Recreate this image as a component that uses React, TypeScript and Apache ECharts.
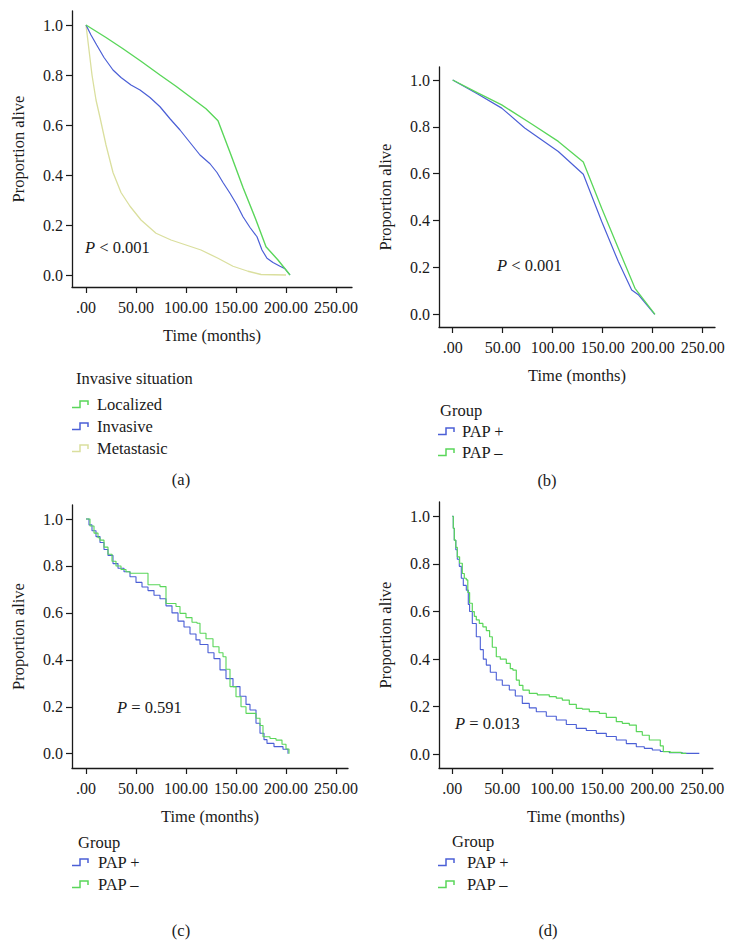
import React, { useEffect, useRef } from 'react';
import * as echarts from 'echarts';

const GREEN = '#5ad65a';
const BLUE = '#4b5fd6';
const YELLOW = '#dadf9e';
const INK = '#1a1a1a';
const FONT = "'Liberation Serif', 'Times New Roman', serif";

const xTicks = [0, 50, 100, 150, 200, 250];
const yTicks = [0, 0.2, 0.4, 0.6, 0.8, 1.0];

// Panel (a): Invasive situation
const aLocalized = [[0, 1], [20, 0.95], [37, 0.905], [55, 0.855], [74, 0.8], [90, 0.755], [105, 0.71], [120, 0.665], [132, 0.617], [145, 0.48], [157, 0.35], [170, 0.22], [180, 0.113], [192, 0.06], [204, 0]];
const aInvasive = [[0, 1], [5, 0.96], [10.7, 0.92], [18, 0.87], [27, 0.82], [35, 0.79], [45, 0.76], [54, 0.74], [64, 0.71], [74, 0.673], [84, 0.625], [94, 0.58], [104, 0.53], [114, 0.48], [124, 0.445], [131, 0.41], [137, 0.37], [144, 0.327], [151, 0.28], [157, 0.233], [164, 0.19], [171, 0.153], [176, 0.1], [181, 0.067], [187, 0.05], [194, 0.035], [199, 0.025], [204, 0]];
const aMetastasic = [[0, 1], [3, 0.9], [6, 0.8], [10, 0.7], [14, 0.63], [20, 0.52], [27, 0.41], [35, 0.33], [44, 0.275], [55, 0.22], [70, 0.167], [85, 0.14], [100, 0.12], [115, 0.1], [132, 0.067], [147, 0.035], [162, 0.015], [175, 0.002], [200, 0]];

// Panel (b)
const bPapPlus = [[0, 1], [25, 0.94], [49, 0.88], [72, 0.795], [105.6, 0.695], [130.6, 0.598], [149, 0.396], [165.6, 0.225], [179, 0.104], [186, 0.082], [202, 0]];
const bPapMinus = [[0, 1], [25, 0.945], [49, 0.894], [79, 0.812], [105.6, 0.738], [130.6, 0.65], [149, 0.453], [165.6, 0.282], [182.3, 0.111], [202.3, 0]];

// Panel (c)
const cPapPlus = [[0, 1], [3, 0.975], [6, 0.95], [10, 0.925], [14, 0.9], [18, 0.87], [22, 0.845], [27, 0.81], [32, 0.79], [38, 0.775], [44, 0.754], [50, 0.73], [56, 0.71], [62, 0.695], [68, 0.675], [74, 0.66], [80, 0.63], [86, 0.6], [92, 0.565], [98, 0.54], [104, 0.51], [110, 0.485], [114, 0.465], [122, 0.43], [128, 0.405], [134, 0.357], [140, 0.32], [147, 0.286], [154, 0.245], [160, 0.21], [164, 0.186], [170, 0.13], [174, 0.087], [178, 0.06], [181, 0.044], [188, 0.03], [197, 0.019], [202, 0]];
const cPapMinus = [[0, 1], [4, 0.97], [8, 0.94], [12, 0.92], [14, 0.91], [18, 0.88], [22, 0.85], [26, 0.82], [30, 0.8], [35, 0.785], [40, 0.775], [44, 0.769], [62, 0.72], [74, 0.712], [80, 0.64], [90, 0.627], [94, 0.598], [100, 0.58], [106, 0.56], [111, 0.556], [114, 0.513], [120, 0.49], [127, 0.456], [133, 0.43], [137, 0.413], [140, 0.36], [144, 0.286], [150, 0.243], [155, 0.2], [160, 0.172], [170, 0.151], [174, 0.12], [177, 0.072], [184, 0.065], [190, 0.058], [196, 0.04], [200, 0.02], [203, 0]];

// Panel (d)
const dPapPlus = [[0, 1], [1, 0.95], [2, 0.9], [3.5, 0.86], [5, 0.82], [7, 0.79], [9, 0.74], [11, 0.71], [14, 0.69], [16, 0.63], [17.3, 0.6], [20, 0.55], [24, 0.494], [28, 0.44], [31, 0.4], [34, 0.375], [38, 0.345], [44, 0.312], [50, 0.29], [57, 0.27], [63, 0.245], [70, 0.214], [77, 0.195], [84, 0.179], [94, 0.16], [104, 0.144], [114, 0.125], [124, 0.109], [134, 0.1], [144, 0.088], [154, 0.075], [164, 0.06], [174, 0.045], [184, 0.032], [192, 0.025], [200, 0.018], [208, 0.012], [217, 0.007], [230, 0.004], [247, 0.002]];
const dPapMinus = [[0, 1], [1, 0.95], [2, 0.9], [3.5, 0.87], [5, 0.83], [7.3, 0.803], [10, 0.76], [12, 0.74], [14, 0.733], [15.5, 0.68], [17.3, 0.635], [20, 0.6], [22, 0.58], [24, 0.565], [27, 0.55], [30.6, 0.536], [34, 0.52], [37.3, 0.494], [40, 0.45], [44, 0.41], [48, 0.4], [54, 0.382], [58, 0.36], [60.6, 0.354], [64, 0.312], [67, 0.29], [70.6, 0.27], [77, 0.256], [85, 0.25], [97, 0.242], [104, 0.236], [110, 0.228], [117, 0.21], [124, 0.193], [130, 0.19], [137, 0.179], [147, 0.172], [154, 0.155], [164, 0.137], [170, 0.13], [177, 0.123], [184, 0.095], [190, 0.08], [197, 0.06], [206, 0.06], [208, 0.035], [211, 0.011], [218, 0.008], [229, 0.004], [234, 0.004]];

const pTexts = ['{i|P} < 0.001', '{i|P} < 0.001', '{i|P} = 0.591', '{i|P} = 0.013'];
const panelTags = ['(a)', '(b)', '(c)', '(d)'];
const legendTitles = ['Invasive situation', 'Group', 'Group', 'Group'];
const legendA = ['Localized', 'Invasive', 'Metastasic'];
const legendGroup = ['PAP +', 'PAP –'];

// layout (pixels)
const grids = [
  { left: 72, top: 11, width: 280, height: 276, xMin: -14, xMax: 266, yMin: -0.048, yMax: 1.056 },
  { left: 439, top: 67, width: 276, height: 260, xMin: -13.7, xMax: 262.3, yMin: -0.0542, yMax: 1.0555 },
  { left: 72, top: 505, width: 276, height: 263, xMin: -14, xMax: 262, yMin: -0.0609, yMax: 1.0597 },
  { left: 439, top: 502, width: 274, height: 266, xMin: -13.3, xMax: 260.7, yMin: -0.0576, yMax: 1.0605 },
];

const pPos = [[85, 247], [497, 265], [117, 707], [455, 723]];
const tagPos = [[181, 479], [547, 480], [181, 930], [548, 930]];
const legendLayout = [
  { tx: 76, ty: 378, ix: 72, lx: 97, ys: [404, 426, 448], colors: [GREEN, BLUE, YELLOW], names: legendA },
  { tx: 440, ty: 410, ix: 438, lx: 462, ys: [431, 452], colors: [BLUE, GREEN], names: legendGroup },
  { tx: 78, ty: 842, ix: 72, lx: 98, ys: [862, 884], colors: [BLUE, GREEN], names: legendGroup },
  { tx: 452, ty: 841, ix: 438, lx: 467, ys: [862, 884], colors: [BLUE, GREEN], names: legendGroup },
];

function makeX(i: number) {
  const g = grids[i];
  return {
    type: 'value', gridIndex: i, min: g.xMin, max: g.xMax,
    name: 'Time (months)', nameLocation: 'middle', nameGap: 40,
    nameTextStyle: { fontFamily: FONT, fontSize: 16.5, color: INK },
    axisLine: { show: true, onZero: false, lineStyle: { color: INK, width: 1.3 } },
    axisTick: { show: true, length: 6, customValues: xTicks, lineStyle: { color: INK, width: 1.2 } },
    axisLabel: { customValues: xTicks, formatter: (v: number) => (v === 0 ? '.00' : v.toFixed(2)), fontFamily: FONT, fontSize: 16, color: INK, margin: 12 },
    splitLine: { show: false },
  };
}
function makeY(i: number) {
  const g = grids[i];
  return {
    type: 'value', gridIndex: i, min: g.yMin, max: g.yMax,
    name: 'Proportion alive', nameLocation: 'middle', nameGap: 45, nameRotate: 90,
    nameTextStyle: { fontFamily: FONT, fontSize: 16.5, color: INK },
    axisLine: { show: true, onZero: false, lineStyle: { color: INK, width: 1.3 } },
    axisTick: { show: true, length: 6, customValues: yTicks, lineStyle: { color: INK, width: 1.2 } },
    axisLabel: { customValues: yTicks, formatter: (v: number) => v.toFixed(1), fontFamily: FONT, fontSize: 16, color: INK, margin: 9 },
    splitLine: { show: false },
  };
}
function line(name: string, idx: number, data: number[][], color: string, step: any, width = 1.2) {
  return {
    type: 'line', name, xAxisIndex: idx, yAxisIndex: idx, data, step,
    showSymbol: false, symbol: 'none', silent: true,
    lineStyle: { color, width }, itemStyle: { color },
  };
}

export default function App() {
  const ref = useRef<HTMLDivElement>(null);
  useEffect(() => {
    if (!ref.current) return;
    const chart = echarts.init(ref.current, null, { renderer: 'svg' });
    const graphic: any[] = [];
    pTexts.forEach((t, i) => {
      graphic.push({
        type: 'text', x: pPos[i][0], y: pPos[i][1],
        style: {
          text: t, fill: INK, fontFamily: FONT, fontSize: 16.5, verticalAlign: 'middle', align: 'left',
          rich: { i: { fontStyle: 'italic', fontFamily: FONT, fontSize: 16.5, fill: INK } },
        },
      });
    });
    panelTags.forEach((t, i) => {
      graphic.push({ type: 'text', x: tagPos[i][0], y: tagPos[i][1], style: { text: t, fill: INK, fontFamily: FONT, fontSize: 16.5, align: 'center', verticalAlign: 'middle' } });
    });
    legendLayout.forEach((L, i) => {
      graphic.push({ type: 'text', x: L.tx, y: L.ty, style: { text: legendTitles[i], fill: INK, fontFamily: FONT, fontSize: 16.5, align: 'left', verticalAlign: 'middle' } });
      L.names.forEach((n, k) => {
        const y = L.ys[k];
        graphic.push({
          type: 'polyline',
          shape: { points: [[L.ix, y + 3.5], [L.ix + 8, y + 3.5], [L.ix + 8, y - 3], [L.ix + 16, y - 3], [L.ix + 16, y + 1]] },
          style: { stroke: L.colors[k], lineWidth: 1.5, fill: 'none' },
        });
        graphic.push({ type: 'text', x: L.lx, y, style: { text: n, fill: INK, fontFamily: FONT, fontSize: 16.5, align: 'left', verticalAlign: 'middle' } });
      });
    });

    chart.setOption({
      animation: false,
      backgroundColor: '#ffffff',
      grid: grids.map((g) => ({ left: g.left, top: g.top, width: g.width, height: g.height, containLabel: false })),
      xAxis: [0, 1, 2, 3].map(makeX),
      yAxis: [0, 1, 2, 3].map(makeY),
      series: [
        line('Metastasic', 0, aMetastasic, YELLOW, false, 1.3),
        line('Invasive', 0, aInvasive, BLUE, false, 1.2),
        line('Localized', 0, aLocalized, GREEN, false, 1.4),
        line('PAP +', 1, bPapPlus, BLUE, false, 1.2),
        line('PAP –', 1, bPapMinus, GREEN, false, 1.3),
        line('PAP +', 2, cPapPlus, BLUE, 'end', 1.1),
        line('PAP –', 2, cPapMinus, GREEN, 'end', 1.1),
        line('PAP +', 3, dPapPlus, BLUE, 'end', 1.1),
        line('PAP –', 3, dPapMinus, GREEN, 'end', 1.2),
      ],
      graphic,
    });
    return () => chart.dispose();
  }, []);
  return <div ref={ref} style={{ position: 'absolute', left: 0, top: 0, width: 733, height: 947, background: '#fff' }} />;
}
